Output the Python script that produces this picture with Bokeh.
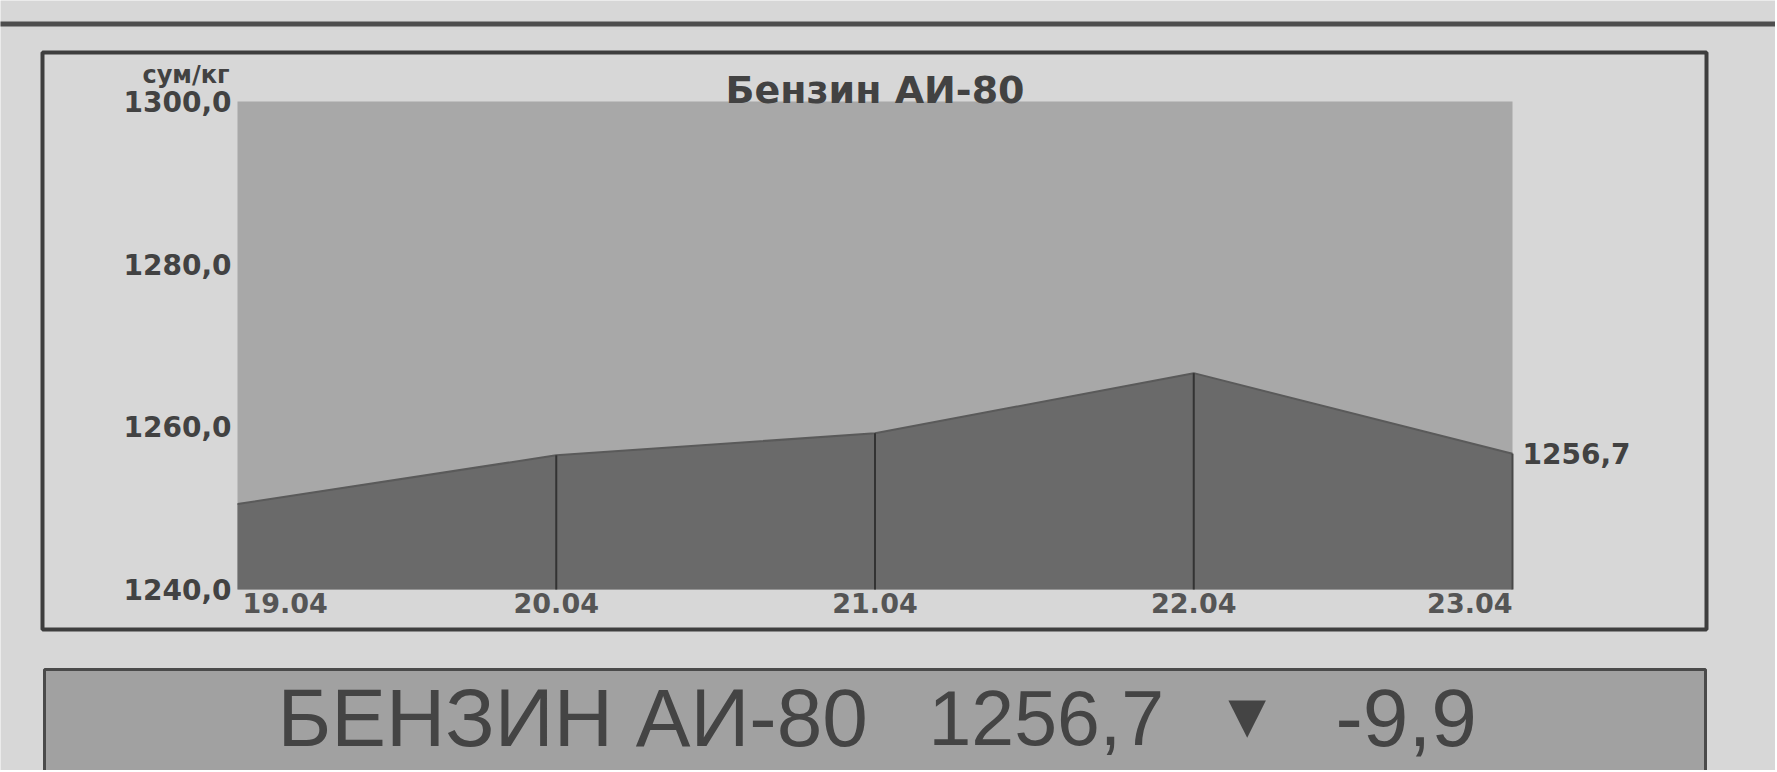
from bokeh.plotting import figure
from bokeh.models import Range1d
from bokeh.embed import file_html
from bokeh.resources import INLINE
from bokeh.core.properties import value

# ---- data ----
dates = ["19.04", "20.04", "21.04", "22.04", "23.04"]
prices = [1250.5, 1256.5, 1259.2, 1266.6, 1256.7]
y_ticks = [1240, 1260, 1280, 1300]
y_tick_labels = ["1240,0", "1260,0", "1280,0", "1300,0"]
unit_label = "сум/кг"
chart_title = "Бензин АИ-80"
banner_name = "БЕНЗИН АИ-80"


def fmt(v):
    return f"{v:.1f}".replace(".", ",")


idx = list(range(len(dates)))
change = round(prices[-1] - prices[-2], 1)

# ---- layout (canvas pixels) ----
W, H = 1775, 770
OFF = 1
PL, PR, PT, PB = 238 - OFF, 1513 - OFF, 102 - OFF, 590 - OFF
ymin, ymax = y_ticks[0], y_ticks[-1]
n = len(dates) - 1
sx = (PR - PL) / n
sy = (PB - PT) / (ymax - ymin)


def cx(px):
    return (px - OFF - PL) / sx


def cy(py):
    return ymax - (py - OFF - PT) / sy


PAPER = "#d7d7d7"
DARK = "#3e3e3e"
TXT = "#424242"
BF = value("DejaVu Sans")

p = figure(width=W, height=H, output_backend="svg", toolbar_location=None,
           x_range=Range1d(cx(OFF), cx(W + OFF)), y_range=Range1d(cy(H + OFF), cy(OFF)),
           x_axis_location=None, y_axis_location=None,
           min_border=0, min_border_left=0, min_border_right=0,
           min_border_top=0, min_border_bottom=0)
p.background_fill_color = PAPER
p.border_fill_color = PAPER
p.outline_line_color = None
p.grid.visible = False

# decorations (page pixels -> data via cx/cy)
p.quad(left=cx(-5), right=cx(W + 20), top=cy(22), bottom=cy(27),
       fill_color="#4e4e4e", line_color=None)
p.quad(left=cx(43), right=cx(1707), top=cy(53), bottom=cy(630),
       fill_color=None, line_color=DARK, line_width=4)
p.quad(left=cx(45), right=cx(1706), top=cy(670), bottom=cy(H + 40),
       fill_color="#a1a1a1", line_color="#4a4a4a", line_width=3)

# plot area
p.quad(left=idx[0], right=idx[-1], top=ymax, bottom=ymin,
       fill_color="#a8a8a8", line_color=None)
p.varea(x=idx, y1=ymin, y2=prices, fill_color="#6a6a6a")
p.line(x=idx, y=prices, line_color="#5a5a5a", line_width=2)
p.segment(x0=idx[1:-1], y0=ymin, x1=idx[1:-1], y1=prices[1:-1],
          line_color="#333333", line_width=2)
p.segment(x0=idx[-1], y0=ymin, x1=idx[-1], y1=prices[-1],
          line_color="#484848", line_width=2)

# y tick labels
p.text(x=[idx[0] - 6 / sx] * len(y_ticks), y=y_ticks, text=y_tick_labels,
       text_align="right", text_baseline="middle", text_font=BF,
       text_font_style="bold", text_font_size="28px", text_color=TXT)

# x tick labels
lab_y = ymin - 3 / sy
xl_style = dict(text_baseline="top", text_font=BF, text_font_style="bold",
                text_font_size="27px", text_color="#555555")
p.text(x=[idx[0] + 5 / sx], y=[lab_y], text=[dates[0]], text_align="left", **xl_style)
p.text(x=idx[1:-1], y=[lab_y] * (len(idx) - 2), text=dates[1:-1], text_align="center", **xl_style)
p.text(x=[idx[-1]], y=[lab_y], text=[dates[-1]], text_align="right", **xl_style)

# last value label
p.text(x=[idx[-1] + 10 / sx], y=[prices[-1]], text=[fmt(prices[-1])],
       text_align="left", text_baseline="middle", text_font=BF,
       text_font_style="bold", text_font_size="28px", text_color=TXT)

# unit label
p.text(x=[idx[0] - 8 / sx], y=[ymax + 27 / sy], text=[unit_label], text_align="right",
       text_baseline="middle", text_font=BF, text_font_style="bold",
       text_font_size="24px", text_color=TXT)

# chart title
p.text(x=[n / 2], y=[ymax + 12 / sy], text=[chart_title], text_align="center",
       text_baseline="middle", text_font=BF, text_font_style="bold",
       text_font_size="38px", text_color=TXT)

# banner
arrow = "▼" if change < 0 else "▲"
mid_y = cy(718)
ban_style = dict(text_align="left", text_baseline="middle",
                 text_font=value("Liberation Sans"), text_color="#444444")
p.text(x=[cx(278)], y=[mid_y], text=[banner_name], text_font_size="82px", **ban_style)
p.text(x=[cx(929)], y=[mid_y], text=[fmt(prices[-1])], text_font_size="77px", **ban_style)
p.text(x=[cx(1216)], y=[mid_y + 3 / sy], text=[arrow], text_font_size="64px", **ban_style)
p.text(x=[cx(1336)], y=[mid_y], text=[fmt(change)], text_font_size="82px", **ban_style)

open("out.html", "w").write(file_html(p, INLINE))
